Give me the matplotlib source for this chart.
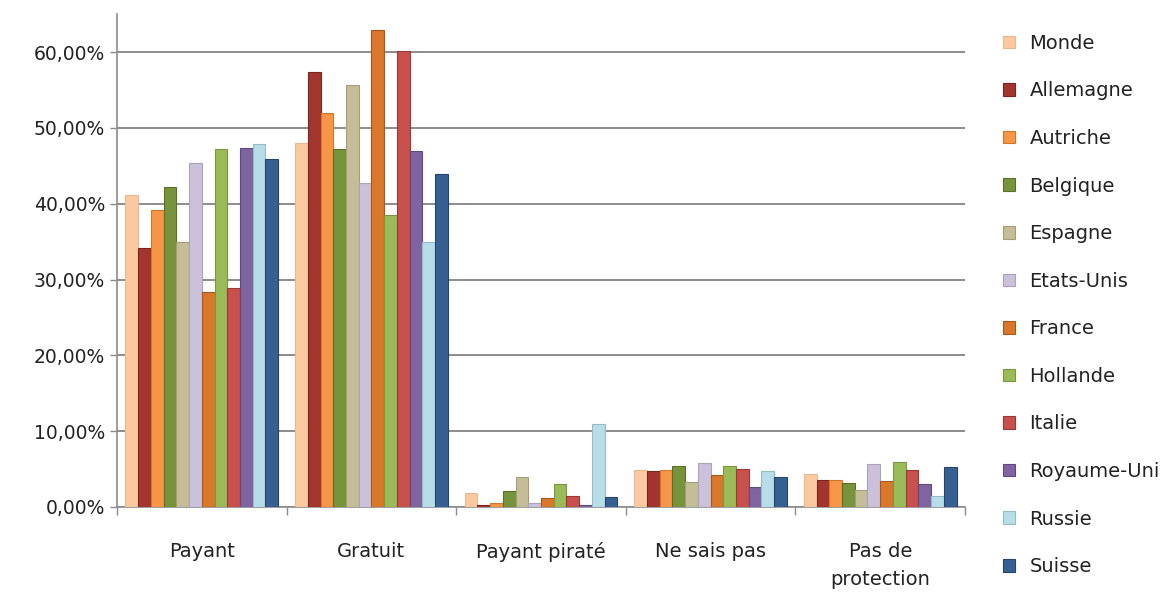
import matplotlib
matplotlib.use("Agg")
import matplotlib.pyplot as plt
import numpy as np
from matplotlib.ticker import FuncFormatter

plt.rcParams['font.family'] = ['DejaVu Sans']

categories = ["Payant", "Gratuit", "Payant piraté", "Ne sais pas", "Pas de\nprotection"]
countries = ["Monde", "Allemagne", "Autriche", "Belgique", "Espagne", "Etats-Unis",
             "France", "Hollande", "Italie", "Royaume-Uni", "Russie", "Suisse"]

monde      = [41.2, 48.0, 1.9, 4.9, 4.3]
allemagne  = [34.2, 57.4, 0.3, 4.8, 3.5]
autriche   = [39.2, 52.0, 0.5, 4.9, 3.5]
belgique   = [42.2, 47.2, 2.1, 5.4, 3.2]
espagne    = [35.0, 55.7, 4.0, 3.3, 2.3]
etats_unis = [45.4, 42.7, 0.5, 5.8, 5.7]
france     = [28.4, 62.9, 1.2, 4.2, 3.4]
hollande   = [47.2, 38.5, 3.0, 5.4, 5.9]
italie     = [28.9, 60.2, 1.4, 5.0, 4.9]
royaume_uni= [47.4, 47.0, 0.2, 2.6, 3.1]
russie     = [47.9, 35.0, 11.0, 4.8, 1.5]
suisse     = [45.9, 43.9, 1.3, 3.9, 5.3]

series = [monde, allemagne, autriche, belgique, espagne, etats_unis,
          france, hollande, italie, royaume_uni, russie, suisse]

colors = ["#FAC9A0", "#A3352F", "#F79646", "#77933C", "#C4BD97", "#CCC1DA",
          "#D9772B", "#9BBB59", "#C8504D", "#8064A2", "#B7DEE8", "#376092"]
edges = ["#E8B890", "#7A2420", "#D0772F", "#5A7029", "#A39D78", "#ACA1BA",
         "#A85A1E", "#7A9640", "#9A3A38", "#5F4A7A", "#95BCC6", "#254468"]

fig = plt.figure(figsize=(11.76, 5.92), dpi=100)
ax = fig.add_axes([117/1176, 85/592, (965-117)/1176, (507-14.3)/592])

n = len(series)
group_w = 0.9
bw = group_w / n
x = np.arange(len(categories))
for i, (vals, c, e, name) in enumerate(zip(series, colors, edges, countries)):
    ax.bar(x - group_w/2 + bw*(i+0.5), vals, width=bw, color=c, edgecolor=e,
           linewidth=0.8, label=name, zorder=3)

ax.set_xlim(-0.5, len(categories)-0.5)
ax.set_ylim(0, 65)
ax.set_yticks([0, 10, 20, 30, 40, 50, 60])
ax.yaxis.set_major_formatter(FuncFormatter(lambda v, p: f"{v:.2f}%".replace(".", ",")))
ax.yaxis.grid(True, color="#8C8C8C", linewidth=1.4, zorder=0)
ax.set_axisbelow(True)

ax.set_xticks(x)
ax.set_xticklabels(categories, fontsize=14, color="#222222", linespacing=1.6)
ax.set_xticks(np.arange(len(categories)+1) - 0.5, minor=True)
ax.tick_params(axis='x', which='major', length=0, pad=25)
ax.tick_params(axis='x', which='minor', length=6, color="#8C8C8C", width=1)
ax.tick_params(axis='y', labelsize=13.5, labelcolor="#222222", length=5,
               color="#8C8C8C", width=1, pad=3.5)

for s in ["top", "right"]:
    ax.spines[s].set_visible(False)
for s in ["left", "bottom"]:
    ax.spines[s].set_color("#8C8C8C")
    ax.spines[s].set_linewidth(1.2)

leg = fig.legend(loc="upper left", bbox_to_anchor=(995/1176, 1 - 26/592),
                 frameon=False, fontsize=14, labelspacing=1.47,
                 handlelength=0.62, handleheight=0.62, handletextpad=0.75,
                 borderaxespad=0)
for t in leg.get_texts():
    t.set_color("#222222")

fig.savefig("out.png", dpi=100, facecolor="white")
